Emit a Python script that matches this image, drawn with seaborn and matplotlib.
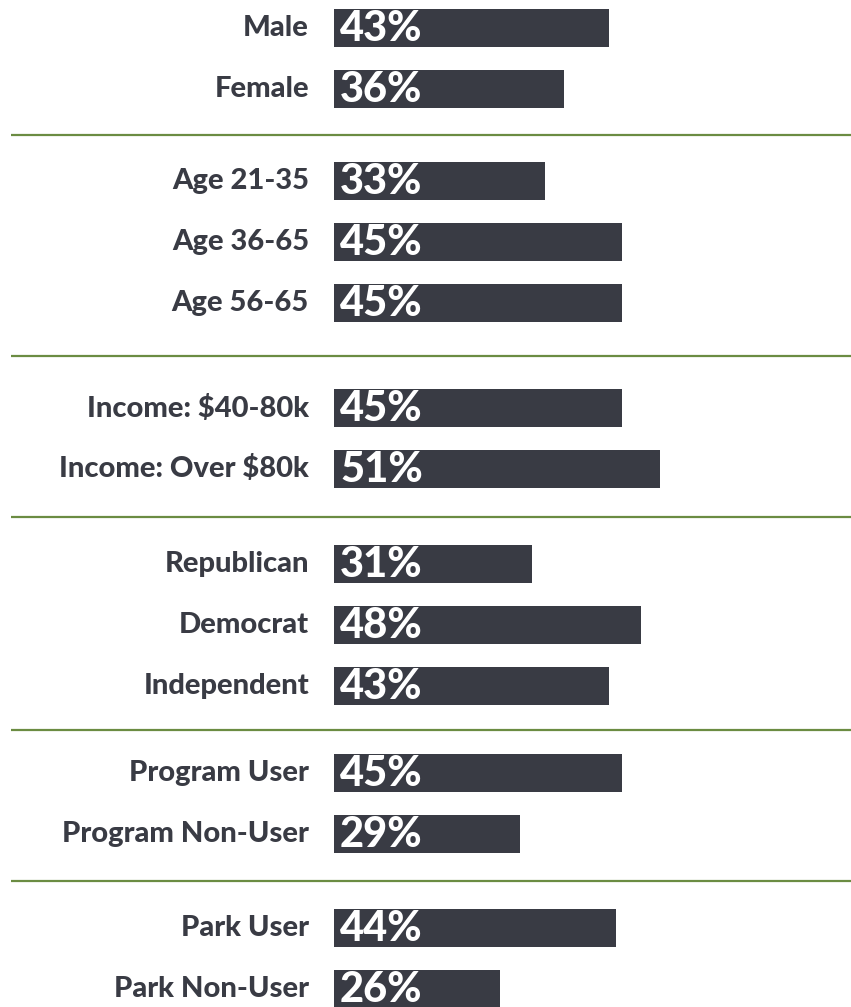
import matplotlib
matplotlib.use("Agg")
import matplotlib.pyplot as plt
import seaborn as sns
import numpy as np

# data
labels = ["Male", "Female",
          "Age 21-35", "Age 36-65", "Age 56-65",
          "Income: $40-80k", "Income: Over $80k",
          "Republican", "Democrat", "Independent",
          "Program User", "Program Non-User",
          "Park User", "Park Non-User"]
values = [43, 36, 33, 45, 45, 45, 51, 31, 48, 43, 45, 29, 44, 26]
groups = [0, 0, 1, 1, 1, 2, 2, 3, 3, 3, 4, 4, 5, 5]

# layout (pixels)
W, H = 851, 1007
bar_x0 = 334
px_per_pct = 6.4
row_step = 61
top = 28
group_extra = [0, 31, 75, 109, 135, 168]   # cumulative extra space per group
bar_h = 38

bar_col = "#393b44"
line_col = "#6b8c42"

ypos = [top + row_step * i + group_extra[g] for i, g in enumerate(groups)]

sns.set_theme(style="white")
plt.rcParams['font.family'] = ['Lato', 'DejaVu Sans']

fig = plt.figure(figsize=(W / 100, H / 100), dpi=100)
ax = fig.add_axes([0, 0, 1, 1])

sns.barplot(x=values, y=ypos, orient="h", native_scale=True,
            color=bar_col, saturation=1, errorbar=None,
            width=bar_h / row_step, linewidth=0, ax=ax)

ax.set_xlim(-bar_x0 / px_per_pct, (W - bar_x0) / px_per_pct)
ax.set_ylim(H, 0)
ax.axis("off")

for lab, v, y in zip(labels, values, ypos):
    ax.text(-25 / px_per_pct, y, lab, ha="right", va="center",
            fontsize=21, fontweight="black", color=bar_col)
    ax.text(6 / px_per_pct, y + 1, f"{v}%", ha="left", va="center",
            fontsize=30, fontweight="black", color="white")

# separators between groups
for g in range(1, max(groups) + 1):
    last = max(y for y, gg in zip(ypos, groups) if gg == g - 1)
    first = min(y for y, gg in zip(ypos, groups) if gg == g)
    ax.plot([11 / px_per_pct - bar_x0 / px_per_pct, (W - bar_x0) / px_per_pct],
            [(last + first) / 2] * 2, color=line_col, lw=1.6,
            solid_capstyle="butt")

fig.savefig("out.png", dpi=100)
